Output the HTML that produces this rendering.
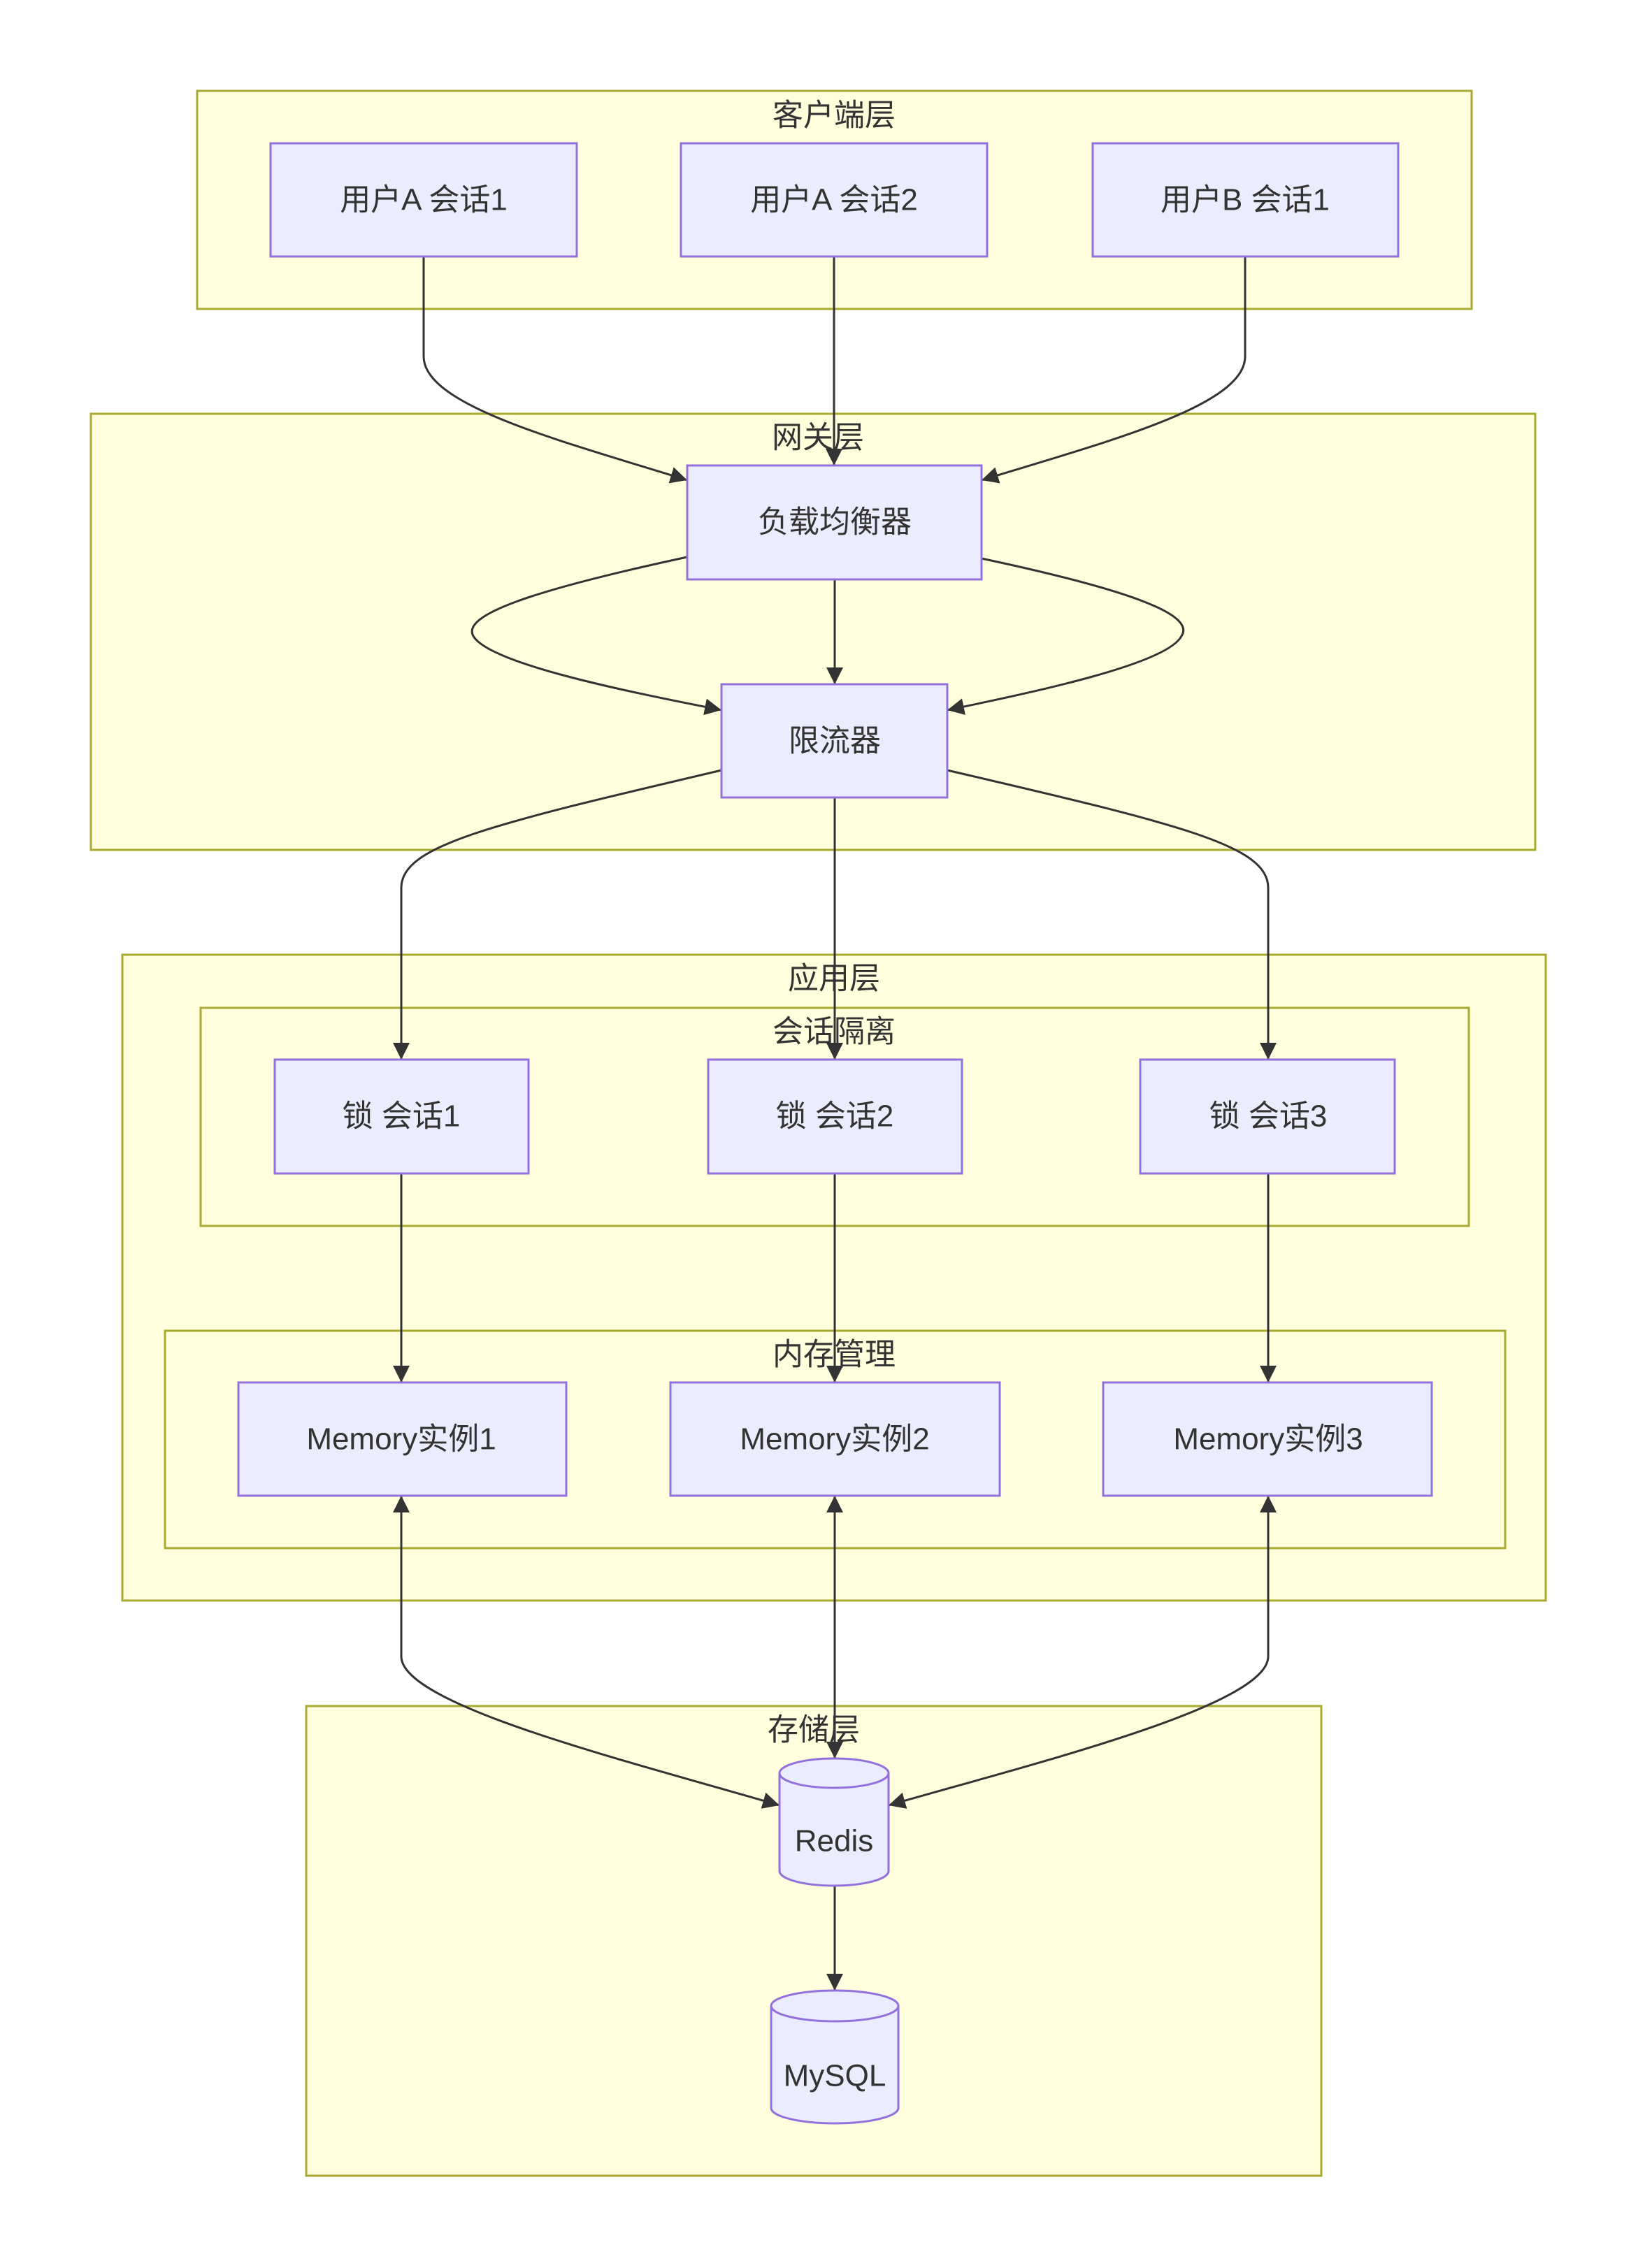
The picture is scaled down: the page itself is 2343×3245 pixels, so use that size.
<!DOCTYPE html>
<html><head><meta charset="utf-8"><style>
html,body{margin:0;padding:0;background:#fff;}
svg{display:block;}
text{font-family:"Liberation Sans","Noto Sans CJK SC",sans-serif;fill:#333;font-size:44px;text-anchor:middle;dominant-baseline:central;}
.c{fill:#ffffde;stroke:#aaaa33;stroke-width:3;}
.n{fill:#ececff;stroke:#9370db;stroke-width:3;}
.e{fill:none;stroke:#333;stroke-width:3;}
</style></head><body>
<svg width="2343" height="3245" viewBox="0 0 2343 3245" xmlns="http://www.w3.org/2000/svg">
<defs>
<marker id="a" viewBox="0 0 10 10" refX="10" refY="5" markerWidth="24" markerHeight="24" markerUnits="userSpaceOnUse" orient="auto-start-reverse">
<path d="M0 0 L10 5 L0 10 z" fill="#333"/>
</marker>
</defs>
<rect class="c" x="282" y="130" width="1823" height="312"/>
<text x="1193" y="165">客户端层</text>
<rect class="c" x="130" y="592" width="2066" height="624"/>
<text x="1170" y="626">网关层</text>
<rect class="c" x="175" y="1366" width="2036" height="924"/>
<text x="1193" y="1400">应用层</text>
<rect class="c" x="287" y="1442" width="1814" height="312"/>
<text x="1193" y="1476">会话隔离</text>
<rect class="c" x="236" y="1904" width="1917" height="311"/>
<text x="1193" y="1938">内存管理</text>
<rect class="c" x="438" y="2441" width="1452" height="672"/>
<text x="1164" y="2475">存储层</text>

<g class="e" marker-end="url(#a)">
<path d="M606 367 V510 C606 580 800 630 983 687"/>
<path d="M1193 367 V666"/>
<path d="M1781 367 V510 C1781 580 1590 630 1404 687"/>
<path d="M983 797 C760 845 660 880 677 910 C700 950 900 990 1032 1016"/>
<path d="M1404 799 C1620 845 1710 880 1690 910 C1670 950 1480 990 1355 1016"/>
<path d="M1194 829 V979"/>
<path d="M1032 1102 C700 1180 574 1210 574 1270 V1516"/>
<path d="M1355 1102 C1690 1180 1814 1210 1814 1270 V1516"/>
<path d="M1194 1141 V1516"/>
<path d="M574 1679 V1978"/>
<path d="M1194 1679 V1978"/>
<path d="M1814 1679 V1978"/>
<path d="M1194 2698 V2848"/>
</g>
<g class="e" marker-start="url(#a)" marker-end="url(#a)">
<path d="M574 2140 V2370 C574 2440 900 2520 1115 2583"/>
<path d="M1194 2140 V2516"/>
<path d="M1814 2140 V2370 C1814 2440 1490 2520 1271 2583"/>
</g>

<rect class="n" x="387" y="205" width="438" height="162"/><text x="606" y="286">用户A 会话1</text>
<rect class="n" x="974" y="205" width="438" height="162"/><text x="1193" y="286">用户A 会话2</text>
<rect class="n" x="1563" y="205" width="437" height="162"/><text x="1781" y="286">用户B 会话1</text>
<rect class="n" x="983" y="666" width="421" height="163"/><text x="1194" y="747">负载均衡器</text>
<rect class="n" x="1032" y="979" width="323" height="162"/><text x="1194" y="1060">限流器</text>
<rect class="n" x="393" y="1516" width="363" height="163"/><text x="574" y="1597">锁 会话1</text>
<rect class="n" x="1013" y="1516" width="363" height="163"/><text x="1194" y="1597">锁 会话2</text>
<rect class="n" x="1631" y="1516" width="364" height="163"/><text x="1814" y="1597">锁 会话3</text>
<rect class="n" x="341" y="1978" width="469" height="162"/><text x="574" y="2059">Memory实例1</text>
<rect class="n" x="959" y="1978" width="471" height="162"/><text x="1194" y="2059">Memory实例2</text>
<rect class="n" x="1578" y="1978" width="470" height="162"/><text x="1814" y="2059">Memory实例3</text>

<path class="n" d="M1115 2537 A78 21 0 0 1 1271 2537 V2677 A78 21 0 0 1 1115 2677 Z"/>
<path class="n" d="M1115 2537 A78 21 0 0 0 1271 2537" style="fill:none"/>
<text x="1193" y="2634">Redis</text>
<path class="n" d="M1103 2870 A91 22 0 0 1 1285 2870 V3016 A91 22 0 0 1 1103 3016 Z"/>
<path class="n" d="M1103 2870 A91 22 0 0 0 1285 2870" style="fill:none"/>
<text x="1194" y="2970">MySQL</text>
</svg>
</body></html>
